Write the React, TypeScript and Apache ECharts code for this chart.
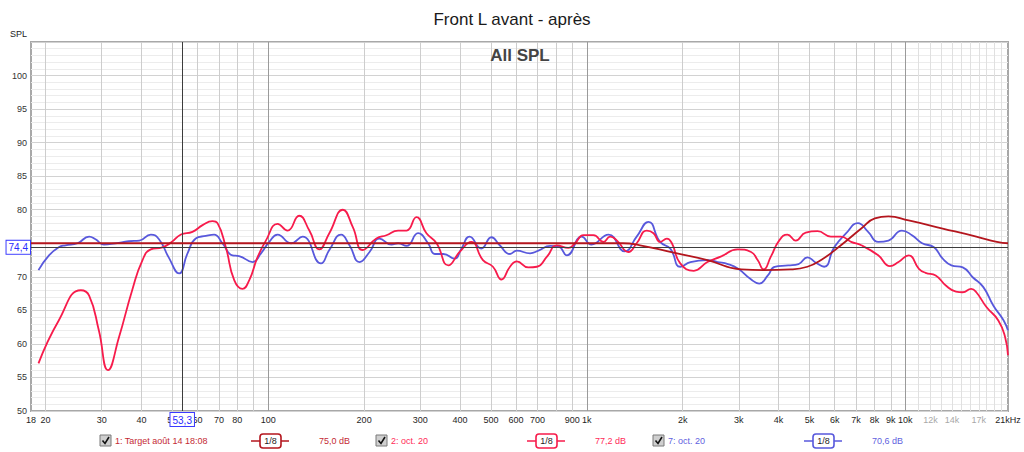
import React, { useEffect, useRef } from "react";
import * as echarts from "echarts";

// ---------- axis ranges / ticks ----------
const X_MIN_HZ = 18;
const X_MAX_HZ = 21000;
const Y_MIN = 50;
const Y_MAX = 105;
const Y_STEP = 5;

const TICK_LABELS_HZ = [18, 20, 30, 40, 50, 60, 70, 80, 100, 200, 300, 400, 500, 600, 700, 900, 1000, 2000, 3000, 4000, 5000, 6000, 7000, 8000, 9000, 10000, 12000, 14000, 17000, 21000];
const TICK_LABELS_TEXT = ["18", "20", "30", "40", "50", "60", "70", "80", "100", "200", "300", "400", "500", "600", "700", "900", "1k", "2k", "3k", "4k", "5k", "6k", "7k", "8k", "9k", "10k", "12k", "14k", "17k", "21kHz"];
const FAINT_LABELS = ["12k", "14k", "17k"];
const GRID_HZ = [20, 30, 40, 50, 60, 70, 80, 90, 200, 300, 400, 500, 600, 700, 800, 900, 2000, 3000, 4000, 5000, 6000, 7000, 8000, 9000];
const MAJOR_GRID_HZ = [100, 1000, 10000];
const FINE_GRID_HZ = [11000, 12000, 13000, 14000, 15000, 16000, 17000, 18000, 19000, 20000];

const CURSOR_HZ = 53.3;
const CURSOR_HZ_TEXT = "53,3";
const CURSOR_DB = 74.4;
const CURSOR_DB_TEXT = "74,4";

// ---------- series 1: Target ----------
const TARGET_HZ = [18, 1300, 1470, 1873, 2391, 3057, 3583, 4360, 4926, 5440, 6277, 7272, 8020, 8850, 10240, 13100, 16700, 19380, 21000];
const TARGET_DB = [75, 75, 74.7, 73.6, 72.5, 71.1, 71.0, 71.1, 71.5, 72.5, 74.7, 77.2, 78.7, 79.0, 78.4, 77.2, 76.0, 75.2, 75.0];

// ---------- series 2: oct. 20 (red) ----------
const S2_HZ = [19, 22, 25.8, 27.4, 29.4, 31.4, 34, 37.4, 40.3, 42.8, 46.5, 49.5, 53.2, 57.8, 62.2, 66.8, 69.3, 73.6, 78.2, 83, 87.2, 92.5, 98.3, 107, 115, 125, 134.6, 144.6, 155.5, 171.5, 184.3, 198, 218.5, 234.9, 255.7, 271.8, 291.9, 313.8, 337.6, 367.5, 398.9, 433.9, 472, 507.5, 539.6, 574, 602.8, 655.6, 697, 749.8, 806, 875.7, 918.5, 976, 1049, 1128, 1184, 1244, 1351, 1434, 1543, 1620, 1699, 1784, 1850, 1965, 2167, 2391, 2632, 2974, 3278, 3438, 3590, 3782, 4016, 4263, 4525, 4868, 5301, 5836, 6277, 6757, 7272, 8218, 8948, 9518, 10244, 11030, 11570, 12453, 13401, 14417, 15138, 16093, 16700, 17970, 19580, 20570, 21000];
const S2_DB = [57.1, 63.5, 68.0, 67.2, 62.0, 56.1, 61.0, 68.0, 72.5, 74.1, 74.4, 75.1, 76.3, 76.7, 77.7, 78.3, 78.0, 74.4, 69.5, 68.2, 69.5, 72.9, 75.4, 77.9, 76.9, 79.1, 76.9, 74.1, 76.5, 80.0, 77.4, 74.0, 75.7, 76.2, 76.9, 76.9, 78.9, 76.5, 75.0, 71.7, 73.7, 75.2, 72.5, 71.5, 69.6, 71.5, 72.3, 71.4, 71.5, 73.0, 74.7, 74.3, 75.0, 76.2, 76.2, 75.2, 76.0, 75.4, 73.7, 75.0, 76.9, 76.5, 75.2, 75.7, 75.0, 72.0, 70.9, 72.2, 73.0, 74.1, 73.7, 72.5, 71.1, 73.0, 75.4, 76.3, 75.4, 76.6, 76.8, 76.0, 76.0, 75.2, 74.7, 73.2, 71.6, 72.2, 73.2, 71.2, 70.6, 70.2, 68.7, 67.8, 67.7, 68.2, 67.7, 65.5, 63.5, 61.0, 58.3];

// ---------- series 7: oct. 20 (blue) ----------
const S7_HZ = [19, 20.5, 22, 23.1, 25.2, 27.4, 28.7, 30.5, 33.2, 36.5, 39.4, 42.8, 45.4, 48.7, 52.5, 55.8, 59.2, 63.7, 67.6, 71.8, 77.2, 81, 89.3, 94.9, 100.7, 107, 117.8, 128.2, 146.4, 155.5, 169.3, 179.9, 193.5, 208, 223.6, 243.6, 255.7, 271.8, 295.4, 317.5, 333.4, 354.5, 384.4, 404, 428.6, 466.4, 502, 533, 574, 602.8, 663.6, 705, 768, 816, 866, 964, 1034, 1170, 1315, 1434, 1562, 1699, 1829, 1965, 2115, 2391, 2573, 2773, 2988, 3260, 3478, 3702, 3888, 4286, 4620, 4926, 5235, 5560, 5980, 6520, 7100, 7640, 8220, 8850, 9750, 10490, 11290, 12300, 13100, 13950, 15140, 16300, 17550, 18900, 20350, 21000];
const S7_DB = [71.0, 73.2, 74.4, 74.7, 75.0, 76.0, 75.6, 74.8, 75.0, 75.3, 75.4, 76.3, 75.6, 72.9, 70.5, 73.5, 75.7, 76.1, 76.3, 75.0, 73.2, 73.1, 72.2, 73.5, 75.2, 76.3, 75.0, 76.0, 72.0, 74.0, 76.3, 74.7, 72.2, 73.7, 75.7, 74.8, 75.0, 74.6, 76.5, 75.0, 73.4, 73.4, 72.7, 74.2, 76.0, 74.2, 75.9, 74.7, 73.4, 73.9, 73.5, 73.9, 74.6, 74.5, 73.2, 76.0, 74.8, 76.3, 73.8, 76.0, 78.2, 75.2, 74.2, 71.5, 72.2, 72.5, 72.2, 71.9, 71.2, 69.7, 69.0, 70.2, 71.5, 71.7, 71.9, 72.9, 72.1, 71.5, 74.4, 76.5, 78.0, 76.7, 75.2, 75.4, 76.9, 76.2, 75.0, 74.4, 72.7, 71.7, 71.4, 69.9, 68.5, 65.7, 63.5, 62.0];

// ---------- legend ----------
const LEGEND_NAMES = ["1: Target août 14 18:08", "2: oct. 20", "7: oct. 20"];
const LEGEND_LEVELS = ["75,0 dB", "77,2 dB", "70,6 dB"];
const LEGEND_SMOOTHING = ["1/8", "1/8", "1/8"];

const TITLE = "Front L avant - après";
const SUBTITLE = "All SPL";
const Y_NAME = "SPL";

const FONT = "'Liberation Sans', Arial, Helvetica, sans-serif";
const COL_TARGET = "#b4161e";
const COL_S2 = "#f71b4b";
const COL_S7 = "#5858dc";
const TEXT_COLORS = ["#c42a34", "#ff2b58", "#5f5fe0"];
const FS = 9;

const lg = (f: number) => Math.log10(f);

export default function App() {
  const ref = useRef<HTMLDivElement>(null);

  useEffect(() => {
    if (!ref.current) return;
    const chart = echarts.init(ref.current, null, { renderer: "svg" });

    const labelFor = (v: number) => {
      let best = 0;
      let bd = Infinity;
      TICK_LABELS_HZ.forEach((f, i) => {
        const d = Math.abs(lg(f) - v);
        if (d < bd) { bd = d; best = i; }
      });
      return TICK_LABELS_TEXT[best];
    };

    const toData = (hz: number[], db: number[]) => hz.map((f, i) => [lg(f), db[i]]);

    const gridAxis = (values: number[], color: string) => ({
      type: "value",
      min: lg(X_MIN_HZ),
      max: lg(X_MAX_HZ),
      position: "bottom",
      axisLine: { show: false },
      axisLabel: { show: false },
      axisTick: { show: false, customValues: values.map(lg) },
      splitLine: { show: true, lineStyle: { color, width: 1 } },
    });

    const legendX = [100, 376, 653];
    const legendY = 441;
    const legendGraphics: any[] = [];
    LEGEND_NAMES.forEach((name, i) => {
      const x0 = legendX[i];
      const col = [COL_TARGET, COL_S2, COL_S7][i];
      const tcol = TEXT_COLORS[i];
      legendGraphics.push(
        { type: "rect", shape: { x: x0, y: legendY - 6, width: 11, height: 11 }, style: { fill: "#cfcfcf", stroke: "#7a7a7a", lineWidth: 1 } },
        { type: "polyline", shape: { points: [[x0 + 2.5, legendY - 0.5], [x0 + 5, legendY + 2.5], [x0 + 9, legendY - 4]] }, style: { stroke: "#111", lineWidth: 1.6, fill: "none" } },
        { type: "text", x: x0 + 15, y: legendY, style: { text: name, fill: tcol, font: `${FS}px ${FONT}`, verticalAlign: "middle" } },
        { type: "line", shape: { x1: x0 + 151, y1: legendY, x2: x0 + 189, y2: legendY }, style: { stroke: col, lineWidth: 1.6 } },
        { type: "rect", shape: { x: x0 + 160, y: legendY - 7, width: 21, height: 14, r: 3 }, style: { fill: "#fff", stroke: col, lineWidth: 1.6 } },
        { type: "text", x: x0 + 170.5, y: legendY, style: { text: LEGEND_SMOOTHING[i], fill: "#222", font: `9px ${FONT}`, align: "center", verticalAlign: "middle" } },
        { type: "text", x: x0 + 219, y: legendY, style: { text: LEGEND_LEVELS[i], fill: tcol, font: `${FS}px ${FONT}`, verticalAlign: "middle" } }
      );
    });

    const lineSeries = (name: string, hz: number[], db: number[], color: string, z: number) => ({
      name,
      type: "line",
      xAxisIndex: 0,
      data: toData(hz, db),
      showSymbol: false,
      smooth: 0.5,
      lineStyle: { color, width: 1.8 },
      itemStyle: { color },
      z,
    });

    const blue: any = lineSeries(LEGEND_NAMES[2], S7_HZ, S7_DB, COL_S7, 3);
    blue.markLine = {
      silent: true,
      symbol: ["none", "none"],
      lineStyle: { color: "#3c3c3c", width: 1, type: "solid" },
      label: {
        position: "start",
        color: "#2a2aff",
        backgroundColor: "#ffffff",
        borderColor: "#3a3aff",
        borderWidth: 1,
        padding: [2, 2, 1, 2],
        fontSize: 10,
        fontFamily: FONT,
      },
      data: [
        { xAxis: lg(CURSOR_HZ), label: { formatter: CURSOR_HZ_TEXT, distance: 2 } },
        { yAxis: CURSOR_DB, label: { formatter: CURSOR_DB_TEXT, distance: 1 } },
      ],
    };

    const option: any = {
      animation: false,
      backgroundColor: "#ffffff",
      textStyle: { fontFamily: FONT },
      title: {
        text: TITLE,
        left: "center",
        top: 6,
        textStyle: { fontSize: 17, fontWeight: "normal", color: "#1a1a1a", fontFamily: FONT },
      },
      grid: {
        left: 31,
        right: 16,
        top: 42,
        bottom: 41,
        show: true,
        borderColor: "#a8a8a8",
        borderWidth: 2,
        backgroundColor: "#ffffff",
        containLabel: false,
        outerBoundsMode: "none",
      },
      xAxis: [
        {
          type: "value",
          min: lg(X_MIN_HZ),
          max: lg(X_MAX_HZ),
          position: "bottom",
          axisLine: { show: false },
          axisTick: { show: false, customValues: GRID_HZ.map(lg) },
          splitLine: { show: true, lineStyle: { color: "#cdcdcd", width: 1 } },
          axisLabel: {
            customValues: TICK_LABELS_HZ.map(lg),
            margin: 4,
            fontSize: FS,
            color: "#1e1e1e",
            fontFamily: FONT,
            hideOverlap: false,
            formatter: (v: number) => {
              const t = labelFor(v);
              return FAINT_LABELS.includes(t) ? `{f|${t}}` : t;
            },
            rich: { f: { color: "#a8a8a8", fontSize: FS, fontFamily: FONT } },
          },
        },
        gridAxis(MAJOR_GRID_HZ, "#9a9a9a"),
        gridAxis(FINE_GRID_HZ, "#e0e0e0"),
      ],
      yAxis: {
        type: "value",
        min: Y_MIN,
        max: Y_MAX,
        interval: Y_STEP,
        name: Y_NAME,
        nameLocation: "end",
        nameGap: 4,
        nameTextStyle: { fontSize: FS, color: "#222", align: "right", padding: [0, 4, 0, 0], fontFamily: FONT },
        axisLine: { show: false },
        axisTick: { show: false },
        axisLabel: {
          margin: 4,
          fontSize: FS,
          color: "#333",
          fontFamily: FONT,
          formatter: (v: number) => (v >= Y_MAX ? "" : String(v)),
        },
        splitLine: { show: true, lineStyle: { color: "#d2d2d2", width: 1 } },
        minorTick: { show: false, splitNumber: 5 },
        minorSplitLine: { show: true, lineStyle: { color: "#ececec", width: 1 } },
      },
      graphic: [
        { type: "text", x: 520, y: 55, style: { text: SUBTITLE, fill: "#444", font: `bold 17px ${FONT}`, align: "center", verticalAlign: "middle" }, z: 10 },
        ...legendGraphics,
      ],
      series: [
        blue,
        lineSeries(LEGEND_NAMES[1], S2_HZ, S2_DB, COL_S2, 4),
        lineSeries(LEGEND_NAMES[0], TARGET_HZ, TARGET_DB, COL_TARGET, 5),
      ],
    };

    chart.setOption(option);
    return () => chart.dispose();
  }, []);

  return (
    <div
      ref={ref}
      style={{ position: "fixed", left: 0, top: 0, width: 1024, height: 452 }}
    />
  );
}
